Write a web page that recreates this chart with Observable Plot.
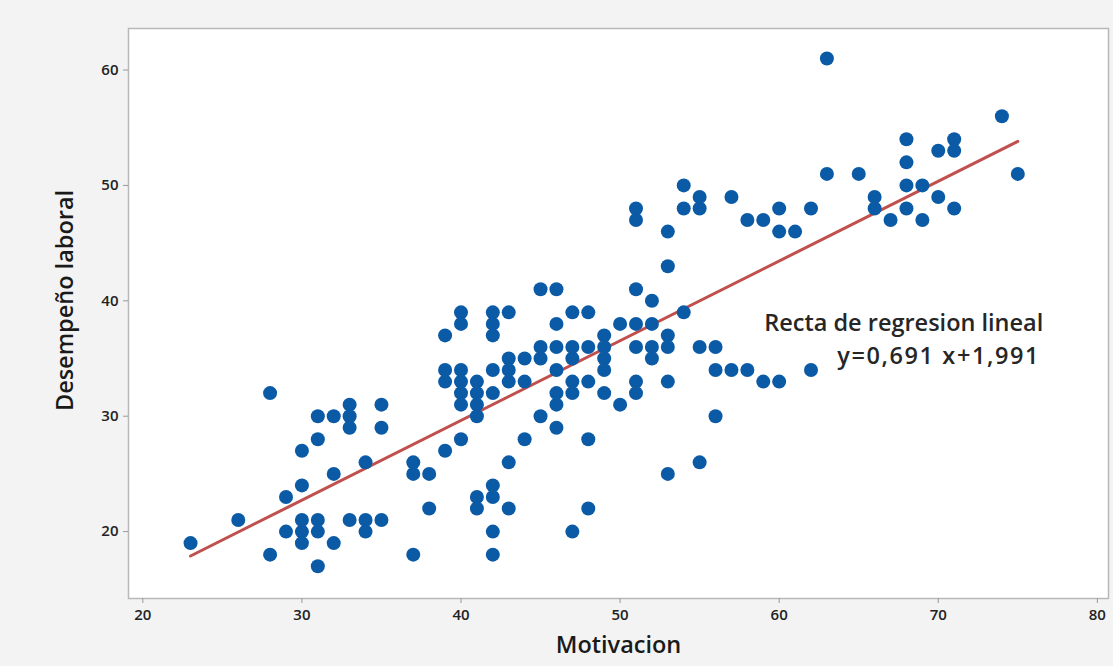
<!DOCTYPE html>
<html>
<head>
<meta charset="utf-8">
<script src="https://cdn.jsdelivr.net/npm/d3@7"></script>
<script src="https://cdn.jsdelivr.net/npm/@observablehq/plot@0.6"></script>
<style>
  html, body { margin: 0; padding: 0; background: #f3f3f3; }
</style>
</head>
<body>
<div id="chart"></div>
<script>
// Motivacion (x) and Desempeño laboral (y) pairs
const motivacion = [
  23, 26, 28, 28, 29, 29,
  30, 30, 30, 30, 30,
  31, 31, 31, 31, 31,
  32, 32, 32,
  33, 33, 33, 33,
  34, 34, 34,
  35, 35, 35,
  37, 37, 37,
  38, 38,
  39, 39, 39, 39,
  40, 40, 40, 40, 40, 40, 40,
  41, 41, 41, 41, 41, 41,
  42, 42, 42, 42, 42, 42, 42, 42, 42,
  43, 43, 43, 43, 43, 43,
  44, 44, 44,
  45, 45, 45, 45,
  46, 46, 46, 46, 46, 46, 46,
  47, 47, 47, 47, 47, 47,
  48, 48, 48, 48, 48,
  49, 49, 49, 49, 49,
  50, 50,
  51, 51, 51, 51, 51, 51, 51,
  52, 52, 52, 52,
  53, 53, 53, 53, 53, 53,
  54, 54, 54,
  55, 55, 55, 55,
  56, 56, 56,
  57, 57,
  58, 58,
  59, 59,
  60, 60, 60,
  61,
  62, 62,
  63, 63,
  65,
  66, 66,
  67,
  68, 68, 68, 68,
  69, 69,
  70, 70,
  71, 71, 71,
  74,
  75
];
const desempeno = [
  19, 21, 32, 18, 23, 20,
  27, 24, 21, 20, 19,
  30, 28, 21, 20, 17,
  30, 25, 19,
  31, 30, 29, 21,
  26, 21, 20,
  31, 29, 21,
  26, 25, 18,
  25, 22,
  37, 34, 33, 27,
  39, 38, 34, 33, 32, 31, 28,
  33, 32, 31, 30, 23, 22,
  39, 38, 37, 34, 32, 24, 23, 20, 18,
  39, 35, 34, 33, 26, 22,
  35, 33, 28,
  41, 36, 35, 30,
  41, 38, 36, 34, 32, 31, 29,
  39, 36, 35, 33, 32, 20,
  39, 36, 33, 28, 22,
  37, 36, 35, 34, 32,
  38, 31,
  48, 47, 41, 38, 36, 33, 32,
  40, 38, 36, 35,
  46, 43, 37, 36, 33, 25,
  50, 48, 39,
  49, 48, 36, 26,
  36, 34, 30,
  49, 34,
  47, 34,
  47, 33,
  48, 46, 33,
  46,
  48, 34,
  61, 51,
  51,
  49, 48,
  47,
  54, 52, 50, 48,
  50, 47,
  53, 49,
  54, 53, 48,
  56,
  51
];

// Fitted regression line as printed on the chart
const slope = 0.691;
const intercept = 1.991;
const fitRange = [23, 75];

const xTicks = [20, 30, 40, 50, 60, 70, 80];
const yTicks = [20, 30, 40, 50, 60];

const xTitle = "Motivacion";
const yTitle = "Desempeño laboral";
const noteLines = ["Recta de regresion lineal", "y=0,691 x+1,991"];
const noteX = [76.6, 76.4];
const noteY = [38.0, 35.2];

const points = motivacion.map((m, i) => ({m, d: desempeno[i]}));
const fit = fitRange.map(m => ({m, d: slope * m + intercept}));
const notes = noteLines.map((t, i) => ({t, x: noteX[i], y: noteY[i]}));

const font = "'Open Sans', 'Noto Sans', sans-serif";

const chart = Plot.plot({
  width: 1113,
  height: 666,
  marginLeft: 128,
  marginRight: 5,
  marginTop: 28,
  marginBottom: 68,
  style: {background: "#f3f3f3", fontFamily: font, color: "#222"},
  x: {domain: [19.1, 80.7]},
  y: {domain: [14.2, 63.6]},
  marks: [
    Plot.frame({fill: "white", stroke: "#b8b8b8", strokeWidth: 1.5}),
    Plot.axisX({ticks: xTicks, tickSize: 5, tickPadding: 6, fontSize: 15, fontWeight: 600, label: null, stroke: "#999"}),
    Plot.axisY({ticks: yTicks, tickSize: 5, tickPadding: 5, fontSize: 15, fontWeight: 600, label: null, stroke: "#999"}),
    Plot.line(fit, {x: "m", y: "d", stroke: "#c0504d", strokeWidth: 3}),
    Plot.dot(points, {x: "m", y: "d", r: 7, fill: "#0b5aa6", stroke: "none"}),
    Plot.text(notes, {x: "x", y: "y", text: "t", textAnchor: "end", fontSize: 23.5, fontWeight: 600, fill: "#262626"}),
    Plot.text([xTitle], {frameAnchor: "bottom", dy: 54, text: d => d, textAnchor: "middle", fontSize: 23.5, fontWeight: 600, fill: "#1a1a1a"}),
    Plot.text([yTitle], {frameAnchor: "left", dx: -63, dy: -13, rotate: -90, text: d => d, textAnchor: "middle", fontSize: 23.5, fontWeight: 600, fill: "#1a1a1a"})
  ]
});
// widen the equation's spacing like the original label
d3.select(chart).selectAll("text").filter(function () { return this.textContent === noteLines[1]; })
  .style("letter-spacing", "1.6px");
document.getElementById("chart").append(chart);
</script>
</body>
</html>
